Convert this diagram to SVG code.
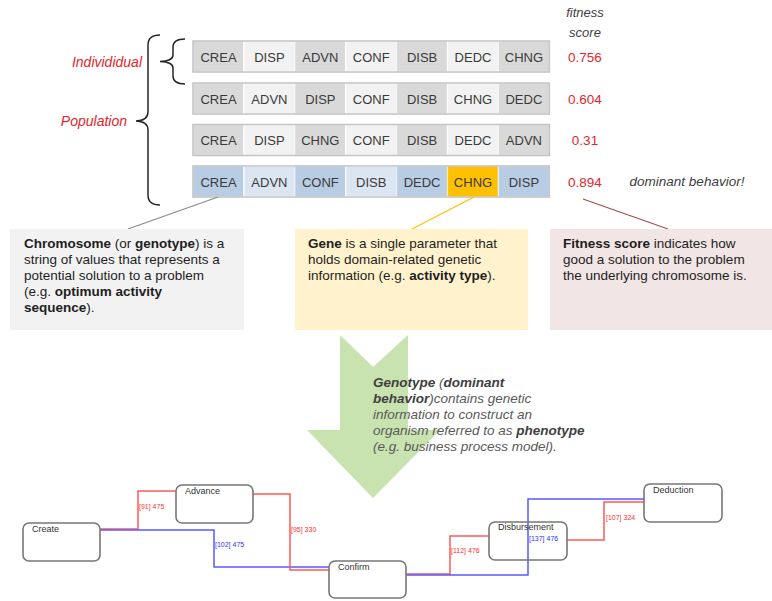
<svg xmlns="http://www.w3.org/2000/svg" width="772" height="601" viewBox="0 0 772 601">
  <style>
    text { font-family: "Liberation Sans", Arial, sans-serif; }
    .gene { font-size: 13px; fill: #3a3a3a; text-anchor: middle; }
    .d { fill: #d9d9d9; stroke: #f4f4f4; stroke-width: 1.2; }
    .l { fill: #f2f2f2; stroke: #ffffff; stroke-width: 1.2; }
    .bd { fill: #b8cce4; stroke: #e8eef6; stroke-width: 1.2; }
    .bl { fill: #dce6f2; stroke: #ffffff; stroke-width: 1.2; }
    .or { fill: #ffc000; stroke: #ffe7a0; stroke-width: 1.2; }
    .rowframe { fill: none; stroke: #c4c4c4; stroke-width: 1.5; }
    .score { font-size: 13.5px; fill: #e2262b; text-anchor: middle; }
    .hdr { font-size: 13px; font-style: italic; fill: #404040; text-anchor: middle; }
    .tag { font-size: 14px; font-style: italic; fill: #e2262b; text-anchor: end; }
    .brace { fill: none; stroke: #262626; stroke-width: 1.5; }
    .info { font-size: 13.5px; fill: #1e1e1e; }
    .b { font-weight: bold; }
    .geno { font-size: 13.5px; font-style: italic; fill: #595959; }
    .gb { font-weight: bold; fill: #404040; }
    .node rect { fill: #ffffff; stroke: #777777; stroke-width: 1.6; }
    .node text { font-size: 9px; fill: #333333; }
    .red { fill: none; stroke: #ff5a5a; stroke-width: 1.5; }
    .blue { fill: none; stroke: #5a5aff; stroke-width: 1.5; }
    .elr { font-size: 7px; fill: #ff3030; }
    .elb { font-size: 7px; fill: #3030ff; }
  </style>

  <!-- population of chromosomes -->
  <g id="chromosome-1">
    <rect class="d" x="193" y="41" width="50.9" height="31"/>
    <rect class="l" x="243.9" y="41" width="50.9" height="31"/>
    <rect class="d" x="294.8" y="41" width="50.9" height="31"/>
    <rect class="l" x="345.7" y="41" width="50.9" height="31"/>
    <rect class="d" x="396.6" y="41" width="50.9" height="31"/>
    <rect class="l" x="447.5" y="41" width="50.9" height="31"/>
    <rect class="d" x="498.4" y="41" width="50.9" height="31"/>
    <rect class="rowframe" x="193" y="41" width="356.3" height="31"/>
    <text class="gene" x="218.5" y="61.5">CREA</text>
    <text class="gene" x="269.4" y="61.5">DISP</text>
    <text class="gene" x="320.3" y="61.5">ADVN</text>
    <text class="gene" x="371.2" y="61.5">CONF</text>
    <text class="gene" x="422.1" y="61.5">DISB</text>
    <text class="gene" x="473" y="61.5">DEDC</text>
    <text class="gene" x="523.9" y="61.5">CHNG</text>
  </g>
  <g id="chromosome-2">
    <rect class="d" x="193" y="83" width="50.9" height="31"/>
    <rect class="l" x="243.9" y="83" width="50.9" height="31"/>
    <rect class="d" x="294.8" y="83" width="50.9" height="31"/>
    <rect class="l" x="345.7" y="83" width="50.9" height="31"/>
    <rect class="d" x="396.6" y="83" width="50.9" height="31"/>
    <rect class="l" x="447.5" y="83" width="50.9" height="31"/>
    <rect class="d" x="498.4" y="83" width="50.9" height="31"/>
    <rect class="rowframe" x="193" y="83" width="356.3" height="31"/>
    <text class="gene" x="218.5" y="103.5">CREA</text>
    <text class="gene" x="269.4" y="103.5">ADVN</text>
    <text class="gene" x="320.3" y="103.5">DISP</text>
    <text class="gene" x="371.2" y="103.5">CONF</text>
    <text class="gene" x="422.1" y="103.5">DISB</text>
    <text class="gene" x="473" y="103.5">CHNG</text>
    <text class="gene" x="523.9" y="103.5">DEDC</text>
  </g>
  <g id="chromosome-3">
    <rect class="d" x="193" y="124.5" width="50.9" height="31"/>
    <rect class="l" x="243.9" y="124.5" width="50.9" height="31"/>
    <rect class="d" x="294.8" y="124.5" width="50.9" height="31"/>
    <rect class="l" x="345.7" y="124.5" width="50.9" height="31"/>
    <rect class="d" x="396.6" y="124.5" width="50.9" height="31"/>
    <rect class="l" x="447.5" y="124.5" width="50.9" height="31"/>
    <rect class="d" x="498.4" y="124.5" width="50.9" height="31"/>
    <rect class="rowframe" x="193" y="124.5" width="356.3" height="31"/>
    <text class="gene" x="218.5" y="145">CREA</text>
    <text class="gene" x="269.4" y="145">DISP</text>
    <text class="gene" x="320.3" y="145">CHNG</text>
    <text class="gene" x="371.2" y="145">CONF</text>
    <text class="gene" x="422.1" y="145">DISB</text>
    <text class="gene" x="473" y="145">DEDC</text>
    <text class="gene" x="523.9" y="145">ADVN</text>
  </g>
  <g id="chromosome-4">
    <rect class="bd" x="193" y="166" width="50.9" height="31"/>
    <rect class="bl" x="243.9" y="166" width="50.9" height="31"/>
    <rect class="bd" x="294.8" y="166" width="50.9" height="31"/>
    <rect class="bl" x="345.7" y="166" width="50.9" height="31"/>
    <rect class="bd" x="396.6" y="166" width="50.9" height="31"/>
    <rect class="or" x="447.5" y="166" width="50.9" height="31"/>
    <rect class="bd" x="498.4" y="166" width="50.9" height="31"/>
    <rect class="rowframe" x="193" y="166" width="356.3" height="31"/>
    <text class="gene" x="218.5" y="186.5">CREA</text>
    <text class="gene" x="269.4" y="186.5">ADVN</text>
    <text class="gene" x="320.3" y="186.5">CONF</text>
    <text class="gene" x="371.2" y="186.5">DISB</text>
    <text class="gene" x="422.1" y="186.5">DEDC</text>
    <text class="gene" x="473" y="186.5">CHNG</text>
    <text class="gene" x="523.9" y="186.5">DISP</text>
  </g>

  <!-- fitness scores -->
  <g id="fitness">
    <text class="hdr" x="585" y="17">fitness</text>
    <text class="hdr" x="585" y="37">score</text>
    <text class="score" x="585" y="62">0.756</text>
    <text class="score" x="585" y="104">0.604</text>
    <text class="score" x="585" y="145">0.31</text>
    <text class="score" x="585" y="187">0.894</text>
    <text class="hdr" x="687" y="186" style="font-size:13.5px">dominant behavior!</text>
  </g>

  <!-- braces with labels -->
  <g id="individual">
    <path class="brace" d="M185,39 Q173,39 173,47 L173,55 Q173,61 160,61.5 Q173,62 173,68 L173,76 Q173,84 185,84"/>
    <text class="tag" x="142" y="67">Individidual</text>
  </g>
  <g id="population">
    <path class="brace" d="M160,35 Q148,35 148,45 L148,112 Q148,120.5 136,121 Q148,121.5 148,130 L148,195 Q148,205 160,205"/>
    <text class="tag" x="127" y="126">Population</text>
  </g>

  <!-- callout leaders -->
  <g id="leaders">
    <line x1="218" y1="197" x2="128" y2="229" stroke="#8c8c8c" stroke-width="1.3"/>
    <line x1="474" y1="197" x2="412" y2="229" stroke="#ffc000" stroke-width="1.3"/>
    <line x1="583" y1="199" x2="668" y2="229" stroke="#a05050" stroke-width="1.3"/>
  </g>

  <!-- explanation boxes -->
  <g id="chromosome-note">
    <rect x="10" y="229" width="234" height="101" fill="#f2f2f2"/>
    <text class="info" x="24" y="248"><tspan class="b">Chromosome</tspan> (or <tspan class="b">genotype</tspan>) is a</text>
    <text class="info" x="24" y="264">string of values that represents a</text>
    <text class="info" x="24" y="280">potential solution to a problem</text>
    <text class="info" x="24" y="296">(e.g. <tspan class="b">optimum activity</tspan></text>
    <text class="info" x="24" y="312"><tspan class="b">sequence</tspan>).</text>
  </g>
  <g id="gene-note">
    <rect x="295" y="229" width="233" height="101" fill="#fff2cc"/>
    <text class="info" x="308" y="248"><tspan class="b">Gene</tspan> is a single parameter that</text>
    <text class="info" x="308" y="264">holds domain-related  genetic</text>
    <text class="info" x="308" y="280">information (e.g. <tspan class="b">activity type</tspan>).</text>
  </g>
  <g id="fitness-note">
    <rect x="550" y="229" width="222" height="101" fill="#f2e5e5"/>
    <text class="info" x="563" y="248"><tspan class="b">Fitness score</tspan> indicates how</text>
    <text class="info" x="563" y="264">good a solution to the problem</text>
    <text class="info" x="563" y="280">the underlying chromosome is.</text>
  </g>

  <!-- genotype to phenotype arrow -->
  <g id="genotype-arrow">
    <polygon points="340,335 373,367 408,335 408,430 440,430 373,498 307,430 340,430" fill="#c8e2b0"/>
    <text class="geno" x="373" y="387"><tspan class="gb">Genotype</tspan> (<tspan class="gb">dominant</tspan></text>
    <text class="geno" x="373" y="403"><tspan class="gb">behavior</tspan>)contains genetic</text>
    <text class="geno" x="373" y="419">information to construct an</text>
    <text class="geno" x="373" y="435">organism referred to as <tspan class="gb">phenotype</tspan></text>
    <text class="geno" x="373" y="451">(e.g. business process model).</text>
  </g>

  <!-- process model connectors -->
  <g id="connectors">
    <path class="red" d="M100,529 H138 V491 H176"/>
    <path class="blue" d="M100,530 H214 V567 H329"/>
    <path class="red" d="M253,494 H290 V570 H329"/>
    <path class="red" d="M406,574 H450 V536 H489"/>
    <path class="blue" d="M406,575 H528 V499 H644"/>
    <path class="red" d="M567,540 H604 V502 H644"/>
    <text class="elr" x="139" y="509">[91] 475</text>
    <text class="elb" x="215" y="547">[102] 475</text>
    <text class="elr" x="291" y="532">[95] 330</text>
    <text class="elr" x="451" y="553">[112] 476</text>
    <text class="elb" x="529" y="541">[137] 476</text>
    <text class="elr" x="606" y="520">[107] 324</text>
  </g>

  <!-- process model nodes -->
  <g id="create" class="node">
    <rect x="23" y="523" width="77" height="38" rx="6"/>
    <text x="32" y="532">Create</text>
  </g>
  <g id="advance" class="node">
    <rect x="176" y="485" width="77" height="38" rx="6"/>
    <text x="185" y="494">Advance</text>
  </g>
  <g id="confirm" class="node">
    <rect x="329" y="561" width="77" height="37" rx="6"/>
    <text x="338" y="570">Confirm</text>
  </g>
  <g id="disbursement" class="node">
    <rect x="489" y="522" width="78" height="38" rx="6" fill-opacity="0"/>
    <text x="498" y="530">Disbursement</text>
  </g>
  <g id="deduction" class="node">
    <rect x="644" y="484" width="78" height="38" rx="6"/>
    <text x="653" y="493">Deduction</text>
  </g>
</svg>
